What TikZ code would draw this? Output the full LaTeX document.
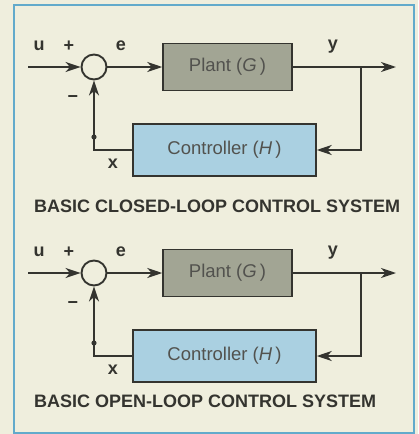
\documentclass[tikz,border=0pt]{standalone}
\usepackage{fontspec}
\setmainfont{Liberation Sans}
\usetikzlibrary{arrows.meta,positioning}
\definecolor{paper}{HTML}{EFEEDD}
\definecolor{rim}{HTML}{62AACB}
\definecolor{ink}{HTML}{34342F}
\definecolor{plantgrey}{HTML}{A2A594}
\definecolor{ctrlblue}{HTML}{AAD0E1}

\begin{document}
\begin{tikzpicture}[x=1pt,y=-1pt,>={Stealth[length=15pt,width=10pt,inset=4.5pt]},
  block/.style={draw=ink,line width=1.5pt,inner sep=0pt,text=ink!85,font=\fontsize{18.5}{20}\selectfont},
  wire/.style={ink,line width=1.9pt},
  lbl/.style={text=ink,font=\fontsize{18}{20}\selectfont\bfseries,inner sep=0pt},
  heading/.style={text=ink,font=\fontsize{18}{20}\selectfont\bfseries,anchor=west,inner sep=0pt}]
  \fill[paper] (0,0) rectangle (418,434);
  \draw[rim,line width=2pt] (14,5) rectangle (414,433);
  \useasboundingbox (0,0) rectangle (418,434);
  \foreach \k/\dy/\hy/\kind in {1/0/206/CLOSED,2/206/195/OPEN}{
    \begin{scope}[shift={(0,\dy)}]
      \node[circle,draw=ink,line width=1.9pt,fill=paper,minimum size=25pt,inner sep=0pt] (sum\k) at (94,67) {};
      \node[block,fill=plantgrey,minimum width=129pt,minimum height=47pt] (plant\k) at (227.5,67) {Plant (\textit{G}\,)};
      \node[block,fill=ctrlblue,minimum width=183pt,minimum height=52pt] (ctrl\k) at (224.5,150) {Controller (\textit{H}\,)};
      \coordinate (in\k) at (28,67);
      \coordinate (out\k) at (396,67);
      \coordinate (tap\k) at (361,67);
      \coordinate (dot\k) at (94,137);
      \draw[wire,->] (in\k) -- (sum\k.west);
      \draw[wire,->] (sum\k.east) -- (plant\k.west);
      \draw[wire,->] (plant\k.east) -- (out\k);
      \draw[wire,->] (tap\k) |- (ctrl\k.east);
      \draw[wire,->] (ctrl\k.west) -| (sum\k.south);
      \fill[ink] (dot\k) circle (2.6pt);
      \node[lbl] (u\k) at (39,46) {u};
      \node[lbl] (plus\k) at (69,46) {+};
      \node[lbl] (e\k) at (121,46) {e};
      \node[lbl] (y\k) at (333,47) {y};
      \node[lbl] (minus\k) at (73,99) {−};
      \node[lbl] (x\k) at (113,164) {x};
      \node[heading] (head\k) at (34,\hy) {BASIC \kind-LOOP CONTROL SYSTEM};
    \end{scope}}
\end{tikzpicture}
\end{document}
